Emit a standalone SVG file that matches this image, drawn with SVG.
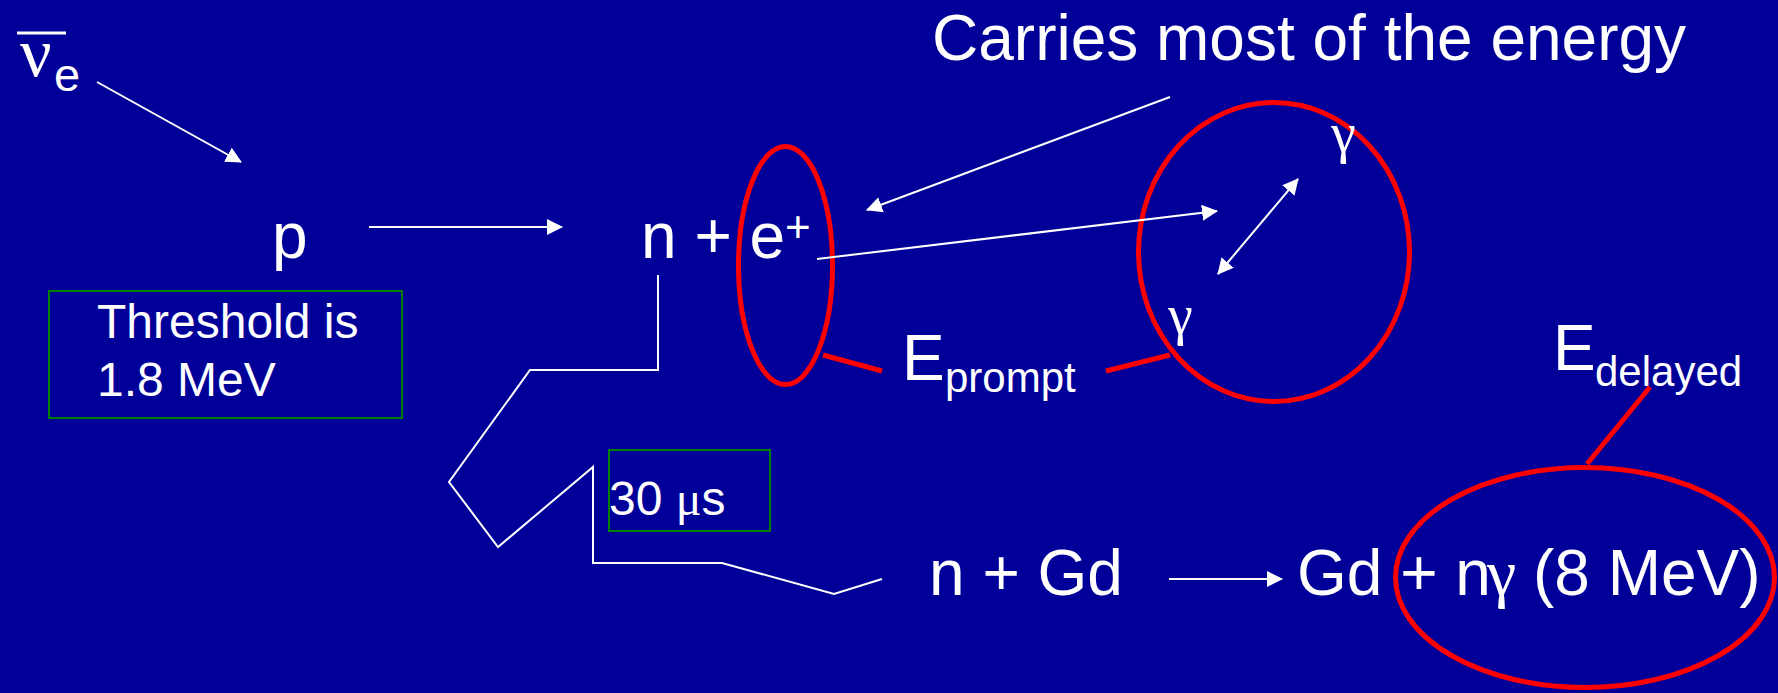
<svg xmlns="http://www.w3.org/2000/svg" width="1778" height="693" viewBox="0 0 1778 693">
<defs>
<style>
.t{font-family:"Liberation Sans",Arial,sans-serif;fill:#fff}
.s{font-family:"Liberation Serif","Times New Roman",serif;fill:#fff}
.w{stroke:#fff;stroke-width:2;fill:none}
.r{stroke:#f00;stroke-width:5;fill:none}
.g{stroke:#008000;stroke-width:2;fill:none}
</style>
<marker id="ah" viewBox="0 0 16 16" refX="15" refY="8" markerWidth="16" markerHeight="16" markerUnits="userSpaceOnUse" orient="auto-start-reverse">
<path d="M0,0 L16,8 L0,16 z" fill="#fff"/>
</marker>
</defs>
<rect width="1778" height="693" fill="#000099"/>

<g id="nubar">
<line x1="17" y1="33" x2="66" y2="33" stroke="#fff" stroke-width="3"/>
<text class="s" x="20" y="76" font-size="70">ν</text>
<text class="t" x="54" y="91" font-size="47">e</text>
</g>

<g id="p"><text class="t" x="272" y="258" font-size="64">p</text></g>

<g id="threshold">
<rect class="g" x="49" y="291" width="353" height="127"/>
<text class="t" x="97" y="338" font-size="48">Threshold is</text>
<text class="t" x="97" y="396" font-size="48">1.8 MeV</text>
</g>

<g id="ne">
<text class="t" x="641" y="258" font-size="64">n + e</text>
<text class="t" x="785" y="242" font-size="44">+</text>
<ellipse class="r" cx="785.5" cy="265.5" rx="47" ry="119"/>
</g>

<g id="carries"><text class="t" x="932" y="60" font-size="64">Carries most of the energy</text></g>

<g id="gammas">
<ellipse class="r" cx="1274" cy="252" rx="135.5" ry="149.5"/>
<text class="s" x="1331" y="152" font-size="56">γ</text>
<text class="s" x="1168" y="334" font-size="56">γ</text>
</g>

<g id="eprompt">
<text class="t" x="902" y="380" font-size="64">E</text>
<text class="t" x="945" y="392" font-size="42">prompt</text>
</g>

<g id="edelayed">
<text class="t" x="1553" y="370" font-size="64">E</text>
<text class="t" x="1595" y="386" font-size="42">delayed</text>
</g>

<g id="tau">
<rect class="g" x="609" y="450" width="161" height="81"/>
<text class="t" x="609" y="515" font-size="48">30 <tspan class="s">μ</tspan>s</text>
</g>

<g id="nGd"><text class="t" x="929" y="595" font-size="64">n + Gd</text></g>

<g id="result">
<text class="t" x="1297" y="595" font-size="64">Gd + n<tspan class="s" x="1487" font-size="66">γ</tspan><tspan x="1533">(8 MeV)</tspan></text>
<ellipse class="r" cx="1585" cy="577.5" rx="189.5" ry="110"/>
</g>

<g id="connectors">
<line class="w" x1="97" y1="82" x2="241" y2="162" marker-end="url(#ah)"/>
<line class="w" x1="369" y1="227" x2="562" y2="227" marker-end="url(#ah)"/>
<line class="w" x1="1170" y1="97" x2="867" y2="210" marker-end="url(#ah)"/>
<line class="w" x1="817" y1="259" x2="1217" y2="211" marker-end="url(#ah)"/>
<line class="w" x1="1218" y1="274" x2="1298" y2="179" marker-start="url(#ah)" marker-end="url(#ah)"/>
<line class="w" x1="1169" y1="579" x2="1282" y2="579" marker-end="url(#ah)"/>
<polyline class="w" stroke-width="3" points="658,275 658,370 530,370 449,482 498,547 593,467 593,563 722,563 834,594 882,579"/>
<line class="r" x1="823" y1="355" x2="882" y2="371"/>
<line class="r" x1="1106" y1="371" x2="1170" y2="355"/>
<line class="r" x1="1587" y1="464" x2="1650" y2="387"/>
</g>
</svg>
